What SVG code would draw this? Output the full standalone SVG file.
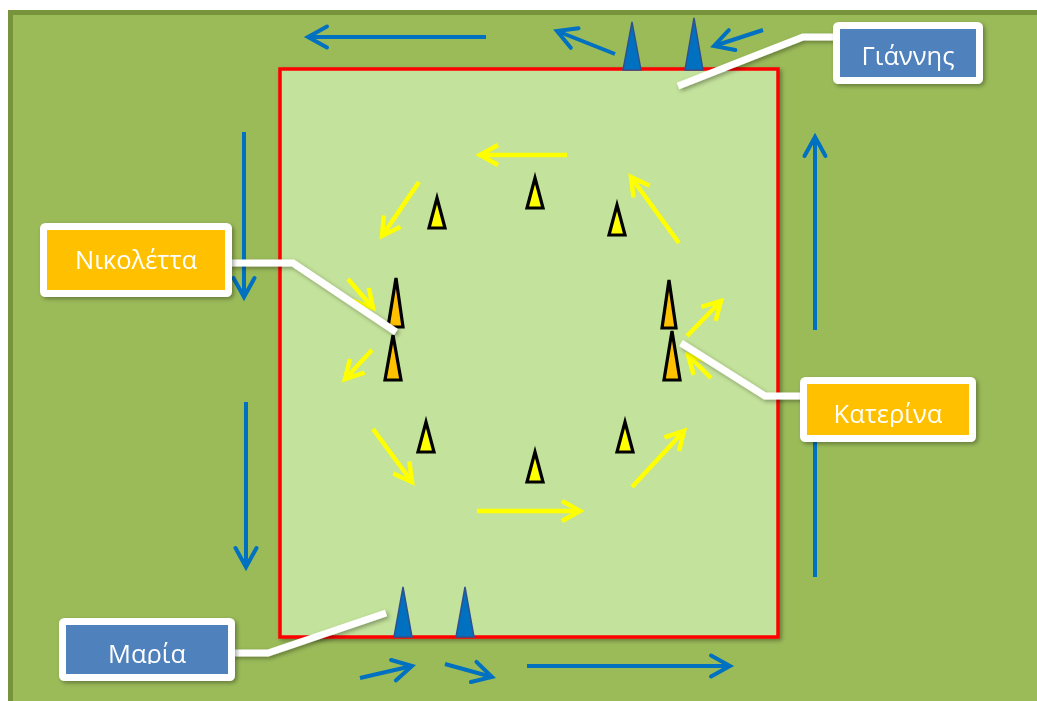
<svg xmlns="http://www.w3.org/2000/svg" width="1037" height="701" viewBox="0 0 1037 701">
<style>
.lbl{font-family:"Open Sans","Noto Sans","Liberation Sans",sans-serif;font-size:25.5px;fill:#ffffff;text-anchor:middle}
.box{stroke:#ffffff;stroke-width:7}
.blue{fill:#4f81bd}
.orange{fill:#ffc000}
.ba{stroke:#0070c0;stroke-width:4;fill:none;marker-end:url(#mb)}
.bl{stroke:#0070c0;stroke-width:4;fill:none}
.ya{stroke:#ffff00;stroke-width:4.5;fill:none;marker-end:url(#my)}
.yc{fill:#ffff00;stroke:#000000;stroke-width:3.2;stroke-linejoin:miter}
.oc{fill:#ffc000;stroke:#000000;stroke-width:3.2;stroke-linejoin:miter}
.bc{fill:#0070c0;stroke:#2f528f;stroke-width:1.5}
.lead{stroke:#ffffff;stroke-width:7;fill:none;stroke-linejoin:miter}
</style>
<defs>
<marker id="mb" markerUnits="userSpaceOnUse" markerWidth="50" markerHeight="50" viewBox="-25 -25 50 50" refX="0" refY="0" orient="auto" overflow="visible">
<path d="M-19,-10.5 L0,0 L-19,10.5" fill="none" stroke="#0070c0" stroke-width="4" stroke-linecap="round"/>
</marker>
<marker id="my" markerUnits="userSpaceOnUse" markerWidth="50" markerHeight="50" viewBox="-25 -25 50 50" refX="0" refY="0" orient="auto" overflow="visible">
<path d="M-18,-10 L0,0 L-18,10" fill="none" stroke="#ffff00" stroke-width="4.5"/>
</marker>
<filter id="sh" x="-20%" y="-20%" width="140%" height="140%">
<feDropShadow dx="2" dy="2" stdDeviation="2" flood-color="#000000" flood-opacity="0.35"/>
</filter>
<clipPath id="ck"><rect x="800" y="377" width="180" height="50"/></clipPath>
<clipPath id="cm"><rect x="59" y="618" width="180" height="46"/></clipPath>
</defs>

<rect x="0" y="0" width="1037" height="701" fill="#ffffff"/>
<rect x="10.5" y="12.5" width="1040" height="700" fill="#9bbb59" stroke="#77933c" stroke-width="5"/>
<rect x="280" y="69" width="498" height="568" fill="#c3e29b" stroke="#ff0000" stroke-width="3.5" filter="url(#sh)"/>

<g id="connectors">
<line class="ba" x1="486" y1="37" x2="308" y2="37"/>
<line class="ba" x1="615" y1="54" x2="557" y2="31"/>
<line class="ba" x1="763" y1="30" x2="714" y2="46"/>
<line class="ba" x1="244" y1="132" x2="244" y2="297"/>
<line class="ba" x1="246" y1="402" x2="246" y2="567"/>
<line class="ba" x1="815" y1="330" x2="815" y2="137"/>
<line class="bl" x1="815" y1="577" x2="815" y2="430"/>
<line class="ba" x1="360" y1="678" x2="412" y2="666"/>
<line class="ba" x1="445" y1="664" x2="492" y2="677"/>
<line class="ba" x1="527" y1="666" x2="730" y2="666"/>
<line class="ya" x1="567" y1="155" x2="480" y2="155"/>
<line class="ya" x1="419" y1="182" x2="382" y2="236"/>
<line class="ya" x1="679" y1="243" x2="631" y2="177"/>
<line class="ya" x1="348" y1="279" x2="373" y2="308"/>
<line class="ya" x1="372" y1="350" x2="345" y2="379"/>
<line class="ya" x1="687" y1="336" x2="721" y2="301"/>
<line class="ya" x1="711" y1="378" x2="688" y2="355"/>
<line class="ya" x1="373" y1="429" x2="412" y2="482"/>
<line class="ya" x1="477" y1="511" x2="580" y2="511"/>
<line class="ya" x1="632" y1="487" x2="684" y2="431"/>
</g>

<g id="cones">
<polygon class="bc" points="632,22 641,70 623,70"/>
<polygon class="bc" points="694,18 703,70 685,70"/>
<polygon class="bc" points="403,587 412,637 394,637"/>
<polygon class="bc" points="465,587 474,637 456,637"/>
<polygon class="yc" points="437,198 445,228 429,228"/>
<polygon class="yc" points="535,178 543,208 527,208"/>
<polygon class="yc" points="617,205 625,235 609,235"/>
<polygon class="yc" points="426,422 434,452 418,452"/>
<polygon class="yc" points="535,452 543,482 527,482"/>
<polygon class="yc" points="625,422 633,452 617,452"/>
<polygon class="oc" points="396,278 403,327 388,327"/>
<polygon class="oc" points="393,335 401,380 385,380"/>
<polygon class="oc" points="669,280 676,328 662,328"/>
<polygon class="oc" points="672,331 680,380 664,380"/>
</g>

<g id="leaders" filter="url(#sh)">
<polyline class="lead" points="836,37 803,37 678,86"/>
<polyline class="lead" points="229,263 293,263 396,332"/>
<polyline class="lead" points="803,396 765,396 681,343"/>
<polyline class="lead" points="232,653 268,653 386,613"/>
</g>

<g id="node-giannis" filter="url(#sh)">
<rect class="box blue" x="836.5" y="25.5" width="143" height="55" rx="2"/>
<text class="lbl" x="908" y="65">Γιάννης</text>
</g>
<g id="node-nikoletta" filter="url(#sh)">
<rect class="box orange" x="43.5" y="226.5" width="185" height="67" rx="2"/>
<text class="lbl" x="136" y="269">Νικολέττα</text>
</g>
<g id="node-katerina" filter="url(#sh)">
<rect class="box orange" x="803.5" y="380.5" width="169" height="58" rx="2"/>
<text class="lbl" x="888" y="423" clip-path="url(#ck)">Κατερίνα</text>
</g>
<g id="node-maria" filter="url(#sh)">
<rect class="box blue" x="62.5" y="621.5" width="169" height="56" rx="2"/>
<text class="lbl" x="147" y="663" clip-path="url(#cm)">Μαρία</text>
</g>
</svg>
